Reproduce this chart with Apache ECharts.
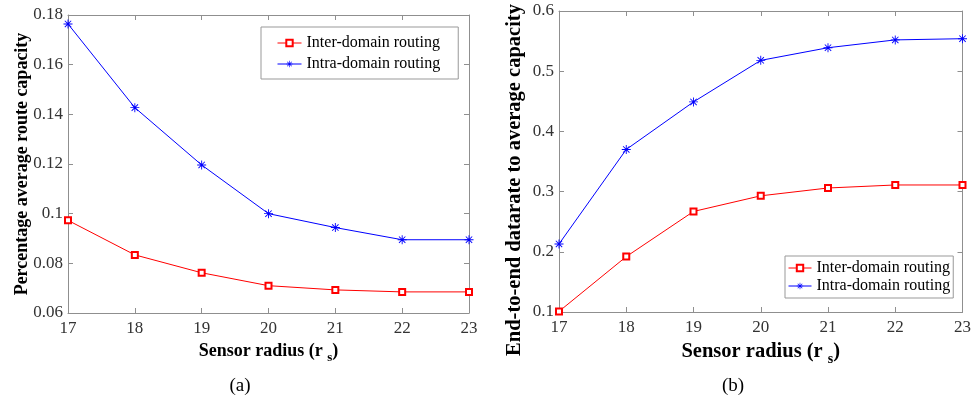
<!DOCTYPE html>
<html>
<head>
<meta charset="utf-8">
<script src="https://cdn.jsdelivr.net/npm/echarts@6/dist/echarts.min.js"></script>
<style>
html,body{margin:0;padding:0;background:#fff;}
#chart{width:974px;height:398px;}
</style>
</head>
<body>
<div id="chart"></div>
<script>
// ---- data ----
const radius = [17, 18, 19, 20, 21, 22, 23];
const capInter = [0.0973, 0.0834, 0.0762, 0.0710, 0.0693, 0.0685, 0.0685];
const capIntra = [0.1764, 0.1427, 0.1196, 0.1000, 0.0944, 0.0895, 0.0895];
const rateInter = [0.101, 0.192, 0.267, 0.293, 0.306, 0.311, 0.311];
const rateIntra = [0.213, 0.370, 0.449, 0.518, 0.539, 0.552, 0.554];
const seriesNames = ['Inter-domain routing', 'Intra-domain routing'];
const yNameA = 'Percentage average route capacity';
const yNameB = 'End-to-end datarate to average capacity';
const captions = ['(a)', '(b)'];

const FONT = '"Liberation Serif", "Times New Roman", serif';
const AX = '#8f8f8f';
const asterisk = 'path://M4.5 0L5.5 0L5.5 10L4.5 10Z M0 4.5L10 4.5L10 5.5L0 5.5Z M1.1 1.8L1.8 1.1L8.9 8.2L8.2 8.9Z M8.2 1.1L8.9 1.8L1.8 8.9L1.1 8.2Z';

function pairs(xs, ys) { return xs.map((x, i) => [x, ys[i]]); }
function fmt(v) { return String(+v.toFixed(2)); }

function xAx(gi, pos, show, nameSize, gap) {
  return {
    type: 'value', gridIndex: gi, position: pos, min: 17, max: 23, interval: 1,
    axisLine: { show: true, lineStyle: { color: AX, width: 1 } },
    axisTick: { show: true, inside: true, length: 5, lineStyle: { color: AX } },
    axisLabel: { show: show, margin: 7, color: '#333', fontFamily: FONT, fontSize: 17 },
    splitLine: { show: false },
    name: show ? '{b|Sensor radius (r }{s|s}{b|)}' : '',
    nameLocation: 'middle', nameGap: gap,
    nameTextStyle: {
      rich: {
        b: { fontFamily: FONT, fontWeight: 'bold', fontSize: nameSize, color: '#000' },
        s: { fontFamily: FONT, fontWeight: 'bold', fontSize: Math.round(nameSize * 0.7), color: '#000', padding: [Math.round(nameSize*0.75), 0, 0, 0] }
      }
    }
  };
}
function yAx(gi, pos, show, min, max, interval) {
  return {
    type: 'value', gridIndex: gi, position: pos, min: min, max: max, interval: interval,
    axisLine: { show: true, lineStyle: { color: AX, width: 1 } },
    axisTick: { show: true, inside: true, length: 5, lineStyle: { color: AX } },
    axisLabel: { show: show, margin: 5, color: '#333', fontFamily: FONT, fontSize: 17, formatter: fmt },
    splitLine: { show: false }
  };
}
function legendCfg(left, top, padding, gap, icon) {
  return {
    data: seriesNames,
    orient: 'vertical', left: left, top: top,
    padding: padding, itemGap: gap, itemWidth: icon, itemHeight: 8,
    borderColor: '#999', borderWidth: 1, backgroundColor: '#fff',
    lineStyle: { width: 1 },
    itemStyle: { borderWidth: 1 },
    textStyle: { fontFamily: FONT, fontSize: 16, color: '#000', lineHeight: 16 }
  };
}

function lineSeries(name, data, xi, yi, isInter) {
  return {
    name: name, type: 'line', xAxisIndex: xi, yAxisIndex: yi, data: data,
    symbol: isInter ? 'emptyRect' : asterisk,
    symbolSize: isInter ? 6 : 9,
    lineStyle: { color: isInter ? '#ff0000' : '#0000ff', width: 1 },
    itemStyle: { color: isInter ? '#ff0000' : '#0000ff', borderWidth: 1 },
    animation: false
  };
}

const chart = echarts.init(document.getElementById('chart'));
chart.setOption({
  backgroundColor: '#fff',
  animation: false,
  grid: [
    { left: 68, top: 15, width: 401, height: 298 },
    { left: 559, top: 11, width: 407, height: 301 }
  ],
  xAxis: [xAx(0, 'bottom', true, 18, 22), xAx(1, 'bottom', true, 20.5, 22), xAx(0, 'top', false, 18, 0), xAx(1, 'top', false, 20.5, 0)],
  yAxis: [
    yAx(0, 'left', true, 0.06, 0.18, 0.02), yAx(1, 'left', true, 0.1, 0.6, 0.1),
    yAx(0, 'right', false, 0.06, 0.18, 0.02), yAx(1, 'right', false, 0.1, 0.6, 0.1)
  ],
  legend: [
    legendCfg(261, 27, [8, 18, 7, 16], 5, 24),
    legendCfg(785, 256, [4, 3, 4, 3], 2, 23)
  ],
  series: [
    lineSeries(seriesNames[0], pairs(radius, capInter), 0, 0, true),
    lineSeries(seriesNames[1], pairs(radius, capIntra), 0, 0, false),
    lineSeries(seriesNames[0], pairs(radius, rateInter), 1, 1, true),
    lineSeries(seriesNames[1], pairs(radius, rateIntra), 1, 1, false)
  ],
  graphic: [
    { type: 'text', x: 22, y: 164, rotation: Math.PI / 2,
      style: { text: yNameA, fontFamily: FONT, fontWeight: 'bold', fontSize: 18, fill: '#000', align: 'center', verticalAlign: 'middle' } },
    { type: 'text', x: 515, y: 180, rotation: Math.PI / 2,
      style: { text: yNameB, fontFamily: FONT, fontWeight: 'bold', fontSize: 20.5, fill: '#000', align: 'center', verticalAlign: 'middle' } },
    { type: 'text', x: 240, y: 386,
      style: { text: captions[0], fontFamily: FONT, fontSize: 19, fill: '#000', align: 'center', verticalAlign: 'middle' } },
    { type: 'text', x: 733, y: 386,
      style: { text: captions[1], fontFamily: FONT, fontSize: 19, fill: '#000', align: 'center', verticalAlign: 'middle' } }
  ]
});
</script>
</body>
</html>
